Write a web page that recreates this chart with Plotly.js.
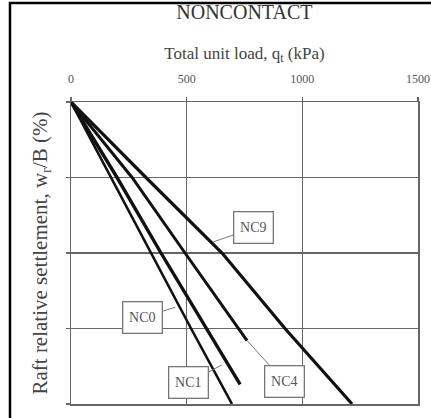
<!DOCTYPE html>
<html>
<head>
<meta charset="utf-8">
<script src="https://cdn.plot.ly/plotly-3.0.1.min.js"></script>
<style>
html,body{margin:0;padding:0;background:#fff;}
#chart{width:431px;height:418px;}
</style>
</head>
<body>
<div id="chart"></div>
<script>
// Total unit load q_t (kPa) vs raft relative settlement w_r/B (%)
const nc0Load = [0, 173, 346, 519, 696];
const nc0Settle = [0, 5, 10, 15, 20];
const nc1Load = [0, 199, 389, 584, 731];
const nc1Settle = [0, 5, 10, 15, 18.7];
const nc4Load = [0, 264, 493, 761];
const nc4Settle = [0, 5, 10, 15.8];
const nc9Load = [0, 324, 653, 925, 1215];
const nc9Settle = [0, 5, 10, 15, 20];

const xTicks = [0, 500, 1000, 1500];
const labelNames = ['NC0', 'NC1', 'NC4', 'NC9'];
// leader tip (on curve) and box centre, in data units
const labelTipX = [450, 653, 761, 614];
const labelTipY = [13.6, 17.4, 15.8, 9.27];
const labelBoxX = [311, 510, 921, 791];
const labelBoxY = [14.24, 18.6, 18.5, 8.34];

const serif = 'Liberation Serif, Times New Roman, serif';

function lineTrace(x, y, w) {
  return {x: x, y: y, mode: 'lines', type: 'scatter',
          line: {color: '#111', width: w}, hoverinfo: 'skip', showlegend: false};
}

const data = [
  lineTrace(nc0Load, nc0Settle, 2.6),
  lineTrace(nc1Load, nc1Settle, 3.4),
  lineTrace(nc4Load, nc4Settle, 3.0),
  lineTrace(nc9Load, nc9Settle, 3.2)
];

const annotations = labelNames.map((n, i) => ({
  text: n, x: labelTipX[i], y: labelTipY[i], xref: 'x', yref: 'y',
  ax: labelBoxX[i], ay: labelBoxY[i], axref: 'x', ayref: 'y',
  showarrow: true, arrowhead: 0, arrowwidth: 1, arrowcolor: '#777',
  font: {family: serif, size: 14, color: '#555'},
  bordercolor: '#777', borderwidth: 1.3, borderpad: 5,
  bgcolor: '#fff', width: 28, height: 20
}));

const gridCol = '#666';
const layout = {
  width: 431, height: 418,
  margin: {l: 71, r: 13, t: 102, b: 14},
  paper_bgcolor: '#fff', plot_bgcolor: '#fff',
  font: {family: serif, color: '#333'},
  title: {text: 'NONCONTACT', font: {family: serif, size: 20, color: '#333'},
          x: 0.567, xanchor: 'center', y: 0.972, yanchor: 'middle'},
  xaxis: {
    side: 'top', range: [0, 1500], tickvals: xTicks, ticktext: xTicks.map(String),
    showgrid: true, gridcolor: gridCol, gridwidth: 1.5,
    showline: true, linecolor: gridCol, linewidth: 1.5, mirror: true,
    ticks: 'outside', ticklen: 4, tickcolor: gridCol, tickwidth: 1.5,
    ticklabelstandoff: 9,
    tickfont: {family: serif, size: 12, color: '#555'},
    zeroline: false,
    title: {text: 'Total unit load, q<sub>t</sub> (kPa)',
            font: {family: serif, size: 17, color: '#444'}, standoff: 8}
  },
  yaxis: {
    range: [20, 0], tickvals: [0, 5, 10, 15, 20], showticklabels: false,
    showgrid: true, gridcolor: gridCol, gridwidth: 1.5,
    showline: true, linecolor: gridCol, linewidth: 1.5, mirror: true,
    ticks: 'outside', ticklen: 4, tickcolor: gridCol, tickwidth: 1.5,
    zeroline: false,
    title: {text: 'Raft relative settlement, w<sub>r</sub>/B (%)',
            font: {family: serif, size: 21, color: '#444'}, standoff: 12}
  },
  shapes: [{type: 'rect', xref: 'paper', yref: 'paper',
            x0: -0.1758, x1: 1.06, y0: -0.08, y1: 1.328,
            line: {color: '#000', width: 2.5}}],
  annotations: annotations
};

Plotly.newPlot('chart', data, layout, {staticPlot: true, displayModeBar: false});
</script>
</body>
</html>
